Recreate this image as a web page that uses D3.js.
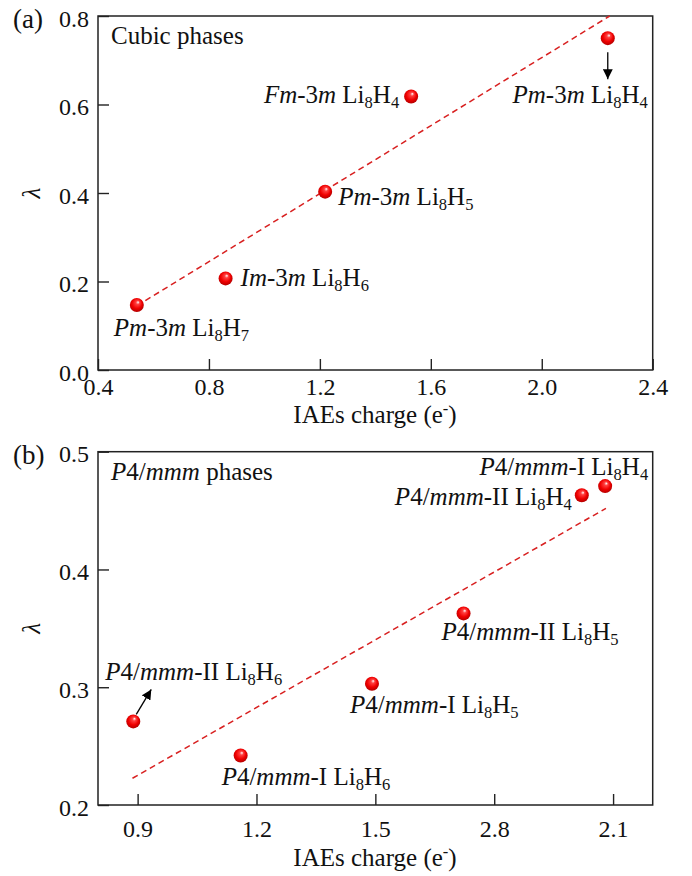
<!DOCTYPE html>
<html>
<head>
<meta charset="utf-8">
<script src="https://cdn.jsdelivr.net/npm/d3@7"></script>
<style>
  body { margin: 0; background: #fff; }
  text { font-family: "Liberation Serif", "DejaVu Serif", serif; fill: #111; }
</style>
</head>
<body>
<script>
// panel (a) cubic phases
const chargeA = [0.54, 0.86, 1.219, 1.529, 2.238];
const lambdaA = [0.147, 0.207, 0.403, 0.618, 0.750];
const namesA  = ["*Pm*-3*m* Li_8H_7", "*Im*-3*m* Li_8H_6", "*Pm*-3*m* Li_8H_5", "*Fm*-3*m* Li_8H_4", "*Pm*-3*m* Li_8H_4"];
const fitA    = [[0.54, 0.145], [2.245, 0.80]];
const xTicksA = [0.4, 0.8, 1.2, 1.6, 2.0, 2.4];
const yTicksA = [0.0, 0.2, 0.4, 0.6, 0.8];

// panel (b) P4/mmm phases
const chargeB = [0.889, 1.160, 1.4915, 1.7226, 2.021, 2.080];
const lambdaB = [0.271, 0.242, 0.303, 0.3627, 0.463, 0.4708];
const namesB  = ["*P*4/*mmm*-II Li_8H_6", "*P*4/*mmm*-I Li_8H_6", "*P*4/*mmm*-I Li_8H_5",
                 "*P*4/*mmm*-II Li_8H_5", "*P*4/*mmm*-II Li_8H_4", "*P*4/*mmm*-I Li_8H_4"];
const fitB    = [[0.887, 0.2227], [2.082, 0.4519]];
const xTicksB = [0.9, 1.2, 1.5, 1.8, 2.1];
const xTickLabelsB = ["0.9", "1.2", "1.5", "2.8", "2.1"];
const yTicksB = [0.2, 0.3, 0.4, 0.5];

// label placement (pixels from the point) and arrows
const labelPosA = [[-23, 31, "start"], [15, 8, "start"], [13, 13, "start"], [-12, 6, "end"], [40, 65, "end"]];
const labelPosB = [[-28, -41, "start"], [-19, 29, "start"], [-22, 29, "start"], [-22, 27, "start"], [-10, 10, "end"], [43, -11, "end"]];

const W = 692, H = 876;
const svg = d3.select("body").append("svg").attr("width", W).attr("height", H);

const defs = svg.append("defs");
const grad = defs.append("radialGradient").attr("id", "ball")
    .attr("cx", "45%").attr("cy", "45%").attr("r", "60%").attr("fx", "60%").attr("fy", "30%");
grad.append("stop").attr("offset", "0%").attr("stop-color", "#ffffff");
grad.append("stop").attr("offset", "22%").attr("stop-color", "#ff4040");
grad.append("stop").attr("offset", "60%").attr("stop-color", "#f00000");
grad.append("stop").attr("offset", "100%").attr("stop-color", "#a80000");

defs.append("marker").attr("id", "head")
    .attr("viewBox", "0 0 10 10").attr("refX", 10).attr("refY", 5)
    .attr("markerWidth", 10).attr("markerHeight", 10).attr("markerUnits", "userSpaceOnUse")
    .attr("orient", "auto")
  .append("path").attr("d", "M0,0 L10,5 L0,10 Z").attr("fill", "#000");

// "*x*" italic, "_c" subscript, "^c" superscript
function richText(sel, str) {
    let parts = [], italic = false, buf = "";
    const flush = () => { if (buf) parts.push({t: buf, it: italic, s: 0}); buf = ""; };
    for (let i = 0; i < str.length; i++) {
        const c = str[i];
        if (c === "*") { flush(); italic = !italic; }
        else if (c === "_" || c === "^") { flush(); parts.push({t: str[++i], it: italic, s: c === "_" ? 1 : -1}); }
        else buf += c;
    }
    flush();
    let shift = 0;
    parts.forEach(p => {
        const ts = sel.append("tspan").text(p.t).attr("font-style", p.it ? "italic" : "normal");
        const want = p.s === 1 ? 5 : p.s === -1 ? -9 : 0;
        if (want !== shift) ts.attr("dy", want - shift);
        if (p.s) ts.attr("font-size", "0.66em");
        shift = want;
    });
}

function panel(o) {
    const x = d3.scaleLinear().domain(o.xDomain).range([98, 652.7]);
    const y = d3.scaleLinear().domain(o.yDomain).range([o.bottom, o.top]);
    const g = svg.append("g");

    const xAxis = d3.axisBottom(x).tickValues(o.xTicks).tickSizeInner(-11).tickSizeOuter(0).tickPadding(o.xPad)
        .tickFormat((d, i) => o.xLabels ? o.xLabels[i] : d3.format(".1f")(d));
    const yAxis = d3.axisLeft(y).tickValues(o.yTicks).tickSizeInner(-11).tickSizeOuter(0).tickPadding(9)
        .tickFormat(d3.format(".1f"));

    const gx = g.append("g").attr("transform", `translate(0,${o.bottom})`).call(xAxis);
    const gy = g.append("g").attr("transform", "translate(98,0)").call(yAxis);
    [gx, gy].forEach(a => {
        a.select(".domain").remove();
        a.selectAll(".tick line").attr("stroke", "#222").attr("stroke-width", 1.4);
        a.selectAll(".tick text").attr("font-size", 24).attr("font-family", "Liberation Serif").attr("fill", "#111");
    });
    gy.selectAll(".tick text").attr("dy", "0.42em");

    g.append("rect").attr("x", 98).attr("y", o.top).attr("width", 652.7 - 98).attr("height", o.bottom - o.top)
        .attr("fill", "none").attr("stroke", "#222").attr("stroke-width", 1.5);

    g.append("line")
        .attr("x1", x(o.fit[0][0])).attr("y1", y(o.fit[0][1]))
        .attr("x2", x(o.fit[1][0])).attr("y2", y(o.fit[1][1]))
        .attr("stroke", "#d82020").attr("stroke-width", 1.5).attr("stroke-dasharray", "6,4");

    o.charge.forEach((c, i) => {
        const px = x(c), py = y(o.lambda[i]);
        g.append("circle").attr("cx", px).attr("cy", py).attr("r", 7).attr("fill", "url(#ball)");
        const lp = o.labelPos[i];
        const t = g.append("text").attr("x", px + lp[0]).attr("y", py + lp[1])
            .attr("text-anchor", lp[2]).attr("font-size", 25);
        richText(t, o.names[i]);
    });

    o.arrows.forEach(a => {
        const i = a.i, px = x(o.charge[i]), py = y(o.lambda[i]);
        g.append("line").attr("x1", px + a.from[0]).attr("y1", py + a.from[1])
            .attr("x2", px + a.to[0]).attr("y2", py + a.to[1])
            .attr("stroke", "#000").attr("stroke-width", 1.3).attr("marker-end", "url(#head)");
    });

    const tt = g.append("text").attr("x", 111).attr("y", o.top + 28).attr("font-size", 25);
    richText(tt, o.title);

    g.append("text").attr("x", 13).attr("y", o.top + 12).attr("font-size", 27).text(o.tag);

    const xt = g.append("text").attr("x", 375).attr("y", o.bottom + o.titleOff).attr("text-anchor", "middle").attr("font-size", 25);
    richText(xt, "IAEs charge (e^-)");

    g.append("text").attr("transform", `translate(40,${(o.top + o.bottom) / 2}) rotate(-90)`)
        .attr("text-anchor", "middle").attr("font-size", 25).attr("font-style", "italic").text("λ");
}

panel({
    xDomain: [0.4, 2.4], yDomain: [0, 0.8], top: 16, bottom: 370, xPad: 8, titleOff: 53,
    xTicks: xTicksA, yTicks: yTicksA, fit: fitA,
    charge: chargeA, lambda: lambdaA, names: namesA, labelPos: labelPosA,
    arrows: [{i: 4, from: [0, 14], to: [0, 41]}],
    title: "Cubic phases", tag: "(a)"
});

panel({
    xDomain: [0.8, 2.2], yDomain: [0.2, 0.5], top: 451.7, bottom: 805, xPad: 15, titleOff: 61,
    xTicks: xTicksB, xLabels: xTickLabelsB, yTicks: yTicksB, fit: fitB,
    charge: chargeB, lambda: lambdaB, names: namesB, labelPos: labelPosB,
    arrows: [{i: 0, from: [3, -7], to: [18, -32]}],
    title: "*P*4/*mmm* phases", tag: "(b)"
});
</script>
</body>
</html>
